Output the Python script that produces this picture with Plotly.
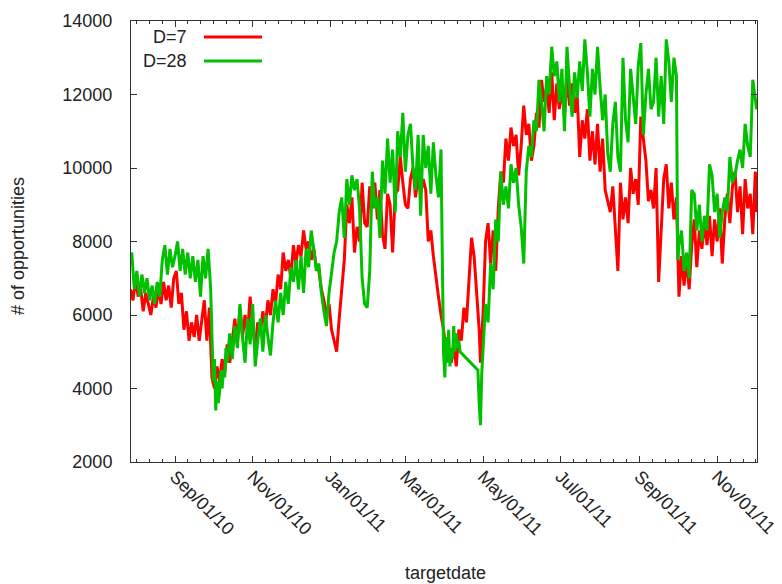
import pandas as pd
import plotly.graph_objects as go

BASE = pd.Timestamp("2010-09-01")

# D=7 series: (day offset from 2010-09-01, value)
red_days = [-35,-33,-31,-29,-27,-25,-23,-21,-19,-17,-15,-13,-11,-9,-7,-5,-3,-1,1,3,5,7,9,11,13,15,17,19,21,23,25,27,29,31,33,35,37,39,41,43,
            45,47,49,51,53,55,57,59,61,63,65,67,69,71,73,75,77,79,81,83,85,87,89,91,93,95,97,99,101,103,105,107,109,111,113,115,117,119,121,123,125,127,129,
            131,133,135,137,139,141,143,145,147,149,151,153,155,157,159,161,163,165,167,169,171,173,175,177,179,181,183,185,187,189,191,193,195,197,199,
            201,203,205,207,209,211,213,215,217,219,221,223,225,227,229,231,233,235,237,239,240,242,244,246,248,250,252,254,256,258,260,262,264,266,268,
            270,272,274,276,278,280,282,284,286,288,290,292,294,296,298,300,302,304,306,308,310,312,314,316,318,320,322,324,326,328,330,332,334,336,338,
            340,342,344,346,348,350,352,354,356,358,360,362,364,366,368,370,372,374,376,378,380,382,384,386,388,390,392,394,396,398,400,402,404,406,408,
            410,412,414,416,418,420,422,424,426,428,430,432,434,436,438,440,442,444,446,448,450,452,454,456,457]
red_vals = [6700,6400,7000,6500,6700,6100,6600,6300,6000,6500,6200,6700,6300,6900,6400,6800,6200,7000,7200,6300,6600,5600,6100,5300,5800,5400,6000,5300,5900,6400,5300,6200,4300,4000,4600,4200,4800,4400,5200,4700,
            5300,5900,5200,6200,5400,6000,5500,6500,5700,5100,5800,5500,6100,5700,6400,6000,6700,6300,7100,6700,7700,7200,7500,7000,7900,7400,7900,7600,8300,7800,8000,7500,7800,7300,7200,6700,6400,6000,6300,5600,5300,5000,5900,
            6600,7500,9000,8500,9200,7700,8400,8000,9600,8500,8400,9500,8900,9600,8600,9400,8200,7800,9300,9000,7700,9300,9400,10300,9600,9000,8900,9700,10000,9200,9800,9300,9700,9400,8000,
            8300,7600,7000,6500,6000,5600,5000,5100,4700,5200,4600,5600,5300,6200,5800,6900,8100,7600,6500,5600,4700,6000,8000,8500,7400,8300,7200,8900,9900,9600,10800,10200,11100,10600,10900,
            9800,10600,11700,10900,11200,10200,10600,11500,11100,12400,11800,12200,11500,12600,11300,12300,11600,12200,11400,12500,11700,12300,11500,12000,10300,11300,10800,11600,10200,11000,10100,11200,9900,10800,9400,
            9100,8800,9500,8200,7200,9600,8600,9200,8500,10000,9300,9700,9000,11400,10700,10200,9100,9400,8900,10000,6900,8400,9700,10100,8900,9600,8600,9200,6500,7600,6800,7500,6700,7900,8600,
            7300,8300,7800,8500,7900,8700,7600,8600,8000,8900,7400,8600,9300,8500,9500,9900,8800,9500,8200,9700,8900,9300,8200,9900,8800]

# D=28 series
green_days = [-35,-34,-32,-30,-28,-26,-24,-22,-20,-18,-16,-14,-12,-10,-8,-6,-4,-2,0,2,4,6,8,10,12,14,16,18,20,22,24,26,28,29,30,31,32,33,34,35,36,37,38,39,40,41,
              43,45,47,49,51,53,55,57,59,61,63,65,67,69,71,73,75,77,79,81,83,85,87,89,91,93,95,97,99,101,103,105,107,109,111,113,115,117,119,121,123,125,127,129,
              131,133,135,137,139,141,143,145,147,149,151,153,155,157,159,161,163,165,167,169,171,173,175,177,179,181,183,185,187,189,191,193,195,197,199,
              201,203,205,207,209,210,211,212,213,214,215,216,217,218,219,220,221,222,223,224,238,239,240,241,242,244,246,248,250,252,254,256,258,260,262,264,266,268,
              270,272,274,276,278,280,282,284,286,288,290,292,294,296,298,300,302,304,306,308,310,312,314,316,318,320,322,324,326,328,330,332,334,336,338,
              340,342,344,346,348,350,352,354,356,358,360,362,364,366,368,370,372,374,376,378,380,382,384,386,388,390,392,394,395,396,398,400,402,404,406,408,
              410,412,414,416,418,420,422,424,426,428,430,432,434,436,438,440,442,444,446,448,450,452,454,456,457]
green_vals = [7600,7700,6700,7200,6500,7100,6600,7000,6400,6800,6300,6900,6500,7500,7900,7100,7800,7300,7600,8000,7200,7800,7100,7700,7000,7600,6900,7500,6500,7600,7000,7800,6700,5500,4200,4800,3400,4200,3600,3900,4500,4000,4500,4300,5100,4700,
              5500,4800,5700,5100,6300,5400,4700,5900,5200,6300,4600,5300,5900,5000,6000,5400,4900,5800,6400,5800,6600,6000,6900,6300,7300,6900,7500,6700,7600,6600,7800,7300,8300,7800,7200,7400,6600,6100,5700,6600,7200,7700,8000,8800,
              9200,8100,9700,9000,9800,9400,9700,8900,7000,6300,6200,7200,9900,8900,9200,8100,10200,9300,10800,9600,10500,8800,11000,10300,11500,9900,10900,11200,10000,9400,10900,8700,10900,10000,10600,
              9300,10700,9800,9200,10500,7600,5000,4300,5400,4700,5600,4600,5100,4800,5700,5000,5500,5100,5300,5000,4500,3600,3000,4400,5000,6300,5800,7400,6700,8600,8000,9900,9000,9500,8900,10100,9600,10000,
              9000,8400,7400,9900,10600,10300,11300,11000,12400,11800,11000,12500,12000,13300,12500,12900,11800,12700,11000,13300,12200,11400,12600,11900,12900,12100,13500,12600,11400,12700,12000,13300,12200,11300,12000,
              10400,9900,11200,11800,10300,9900,13000,11300,10700,12700,12000,11200,12800,13400,10900,12000,12700,11600,11800,13000,11400,12500,11200,13500,12900,11800,13000,12500,7500,7900,8300,7200,7700,7000,9400,9300,
              8300,9000,8000,8700,8300,10100,9800,8800,9300,8100,8800,9200,8800,10300,9600,9800,10200,10500,10000,11200,10600,10300,12400,11800,11600]

major_ticks = ["2010-09-01", "2010-11-01", "2011-01-01", "2011-03-01", "2011-05-01",
               "2011-07-01", "2011-09-01", "2011-11-01"]
y_ticks = [2000, 4000, 6000, 8000, 10000, 12000, 14000]
y_labels = ["2000", "4000", "6000", "8000", "10000", "12000", "14000"]

red_x = [BASE + pd.Timedelta(days=d) for d in red_days]
green_x = [BASE + pd.Timedelta(days=d) for d in green_days]

# minor ticks: each 2-month interval split into 6
mt = [pd.Timestamp(t) for t in major_ticks]
ext = [mt[0] - (mt[1] - mt[0])] + mt + [mt[-1] + (mt[-1] - mt[-2])]
minor_vals = []
for a, b in zip(ext[:-1], ext[1:]):
    for k in range(1, 6):
        minor_vals.append(a + (b - a) * k / 6)

x_lo = BASE - pd.Timedelta(days=34.6)
x_hi = BASE + pd.Timedelta(days=457.3)

FONT = "Liberation Sans, Arial, sans-serif"
fig = go.Figure()
fig.add_trace(go.Scatter(x=red_x, y=red_vals, mode="lines", name="D=7",
                         line=dict(color="#ff0000", width=3)))
fig.add_trace(go.Scatter(x=green_x, y=green_vals, mode="lines", name="D=28",
                         line=dict(color="#00c000", width=3)))

L, R, T, B = 131, 757, 21, 462
def px(x):
    return (x - L) / (R - L)
def py(y):
    return (B - y) / (B - T)

fig.update_layout(
    width=782, height=584,
    margin=dict(l=L, r=782 - R, t=T, b=584 - B),
    paper_bgcolor="white", plot_bgcolor="white",
    showlegend=False,
    font=dict(family=FONT, size=18, color="#222"),
    xaxis=dict(type="date", range=[x_lo, x_hi], tickvals=major_ticks, tickformat="%b/%d/%y",
               tickangle=45, ticks="inside", ticklen=6, tickcolor="#333",
               showline=True, linecolor="#333", linewidth=1, mirror="ticks",
               showgrid=False, zeroline=False, automargin=False, ticklabelstandoff=-4,
               minor=dict(tickmode="array", tickvals=minor_vals, ticks="inside", ticklen=3,
                          tickcolor="#333", showgrid=False),
               tickfont=dict(size=18, color="#222")),
    yaxis=dict(range=[2000, 14000], tickvals=y_ticks, ticktext=y_labels, ticks="inside", ticklen=6,
               tickcolor="#333", automargin=False,
               showline=True, linecolor="#333", linewidth=1, mirror="ticks",
               showgrid=False, zeroline=False, ticklabelstandoff=14,
               tickfont=dict(size=18, color="#222")),
)

anns = [
    dict(text="targetdate", x=px(445), y=py(573), xanchor="center", yanchor="middle"),
    dict(text="# of opportunities", x=px(18), y=py(246), xanchor="center", yanchor="middle", textangle=-90),
    dict(text="D=7", x=px(189), y=py(37), xanchor="right", yanchor="middle"),
    dict(text="D=28", x=px(189), y=py(61), xanchor="right", yanchor="middle"),
]
for a in anns:
    a.update(xref="paper", yref="paper", showarrow=False, font=dict(family=FONT, size=18, color="#222"))
    fig.add_annotation(**a)

for yy, col in [(37, "#ff0000"), (61, "#00c000")]:
    fig.add_shape(type="line", xref="paper", yref="paper", x0=px(204), x1=px(262), y0=py(yy), y1=py(yy),
                  line=dict(color=col, width=3))

fig.write_html("out.html")
